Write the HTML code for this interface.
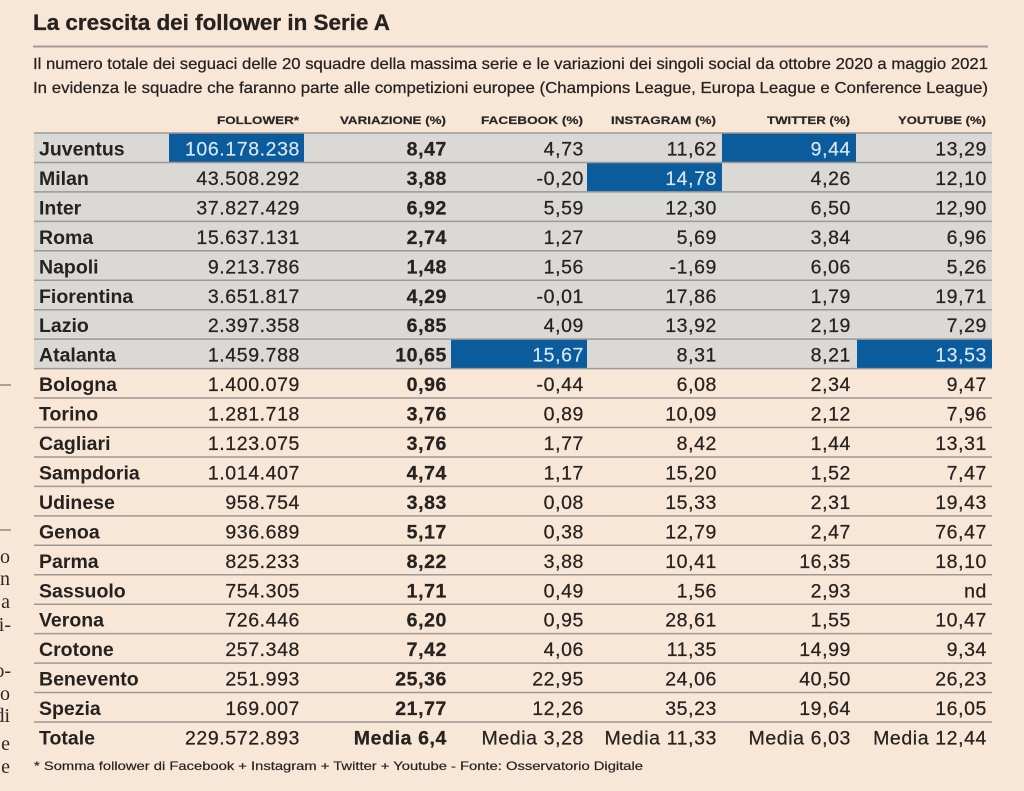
<!DOCTYPE html>
<html>
<head>
<meta charset="utf-8">
<style>
html,body{margin:0;padding:0;background:#f8e7d7;}
svg{display:block;}
.t{font-family:"Liberation Sans",sans-serif;fill:#262220;}
.n{font-size:19.5px;letter-spacing:0.6px;text-anchor:end;stroke:#262220;stroke-width:0.25px;}
.b{font-weight:bold;}
.w{fill:#dbe7f2;stroke:#dbe7f2;stroke-width:0.15px;}
.h{font-size:11px;font-weight:bold;text-anchor:end;fill:#2a2624;stroke:#2a2624;stroke-width:0.2px;}
.s{font-family:"Liberation Serif",serif;font-size:20px;fill:#2e2926;text-anchor:end;}
.r{stroke:#262220;stroke-width:0.25px;}
</style>
</head>
<body>
<svg width="1024" height="791" viewBox="0 0 1024 791" xmlns="http://www.w3.org/2000/svg">
<rect x="0" y="0" width="1024" height="791" fill="#f8e7d7"/>

<!-- left margin cut text -->
<line x1="0" y1="385" x2="11" y2="385" stroke="#8f8a85" stroke-width="1.5"/>
<line x1="0" y1="530" x2="11" y2="530" stroke="#8f8a85" stroke-width="1.5"/>
<text class="s" x="10" y="563">o</text>
<text class="s" x="10" y="585">n</text>
<text class="s" x="10" y="608">a</text>
<text class="s" x="11" y="631">i-</text>
<text class="s" x="11" y="677">o-</text>
<text class="s" x="10" y="700">o</text>
<text class="s" x="10" y="722">di</text>
<text class="s" x="10" y="750">e</text>
<text class="s" x="10" y="773">e</text>

<!-- title -->
<text class="t b" x="33" y="30" font-size="22" textLength="357" lengthAdjust="spacingAndGlyphs" stroke="#262220" stroke-width="0.3">La crescita dei follower in Serie A</text>
<line x1="33" y1="46.5" x2="988" y2="46.5" stroke="#a39e99" stroke-width="2"/>
<text class="t r" x="33" y="69" font-size="16" textLength="955" lengthAdjust="spacingAndGlyphs">Il numero totale dei seguaci delle 20 squadre della massima serie e le variazioni dei singoli social da ottobre 2020 a maggio 2021</text>
<text class="t r" x="33" y="93" font-size="16" textLength="955" lengthAdjust="spacingAndGlyphs">In evidenza le squadre che faranno parte alle competizioni europee (Champions League, Europa League e Conference League)</text>

<!-- headers -->
<text class="t h" x="299" y="124" textLength="82" lengthAdjust="spacingAndGlyphs">FOLLOWER*</text>
<text class="t h" x="446" y="124" textLength="106" lengthAdjust="spacingAndGlyphs">VARIAZIONE (%)</text>
<text class="t h" x="583" y="124" textLength="102" lengthAdjust="spacingAndGlyphs">FACEBOOK (%)</text>
<text class="t h" x="716" y="124" textLength="105" lengthAdjust="spacingAndGlyphs">INSTAGRAM (%)</text>
<text class="t h" x="850" y="124" textLength="83" lengthAdjust="spacingAndGlyphs">TWITTER (%)</text>
<text class="t h" x="986" y="124" textLength="88" lengthAdjust="spacingAndGlyphs">YOUTUBE (%)</text>

<!-- gray rows (0-7) -->
<rect x="34" y="133" width="958" height="235.6" fill="#dbd9d6"/>

<!-- highlights -->
<rect x="169" y="133" width="135" height="29.45" fill="#0b5c9d"/>
<rect x="722" y="133" width="134" height="29.45" fill="#0b5c9d"/>
<rect x="587" y="162.45" width="135" height="29.45" fill="#0b5c9d"/>
<rect x="451" y="339.15" width="136" height="29.45" fill="#0b5c9d"/>
<rect x="857" y="339.15" width="135" height="29.45" fill="#0b5c9d"/>

<!-- separators -->
<g stroke="#9d9894" stroke-width="1.5">
<line x1="34" x2="992" y1="133" y2="133"/>
<line x1="34" x2="992" y1="162.45" y2="162.45"/>
<line x1="34" x2="992" y1="191.9" y2="191.9"/>
<line x1="34" x2="992" y1="221.35" y2="221.35"/>
<line x1="34" x2="992" y1="250.8" y2="250.8"/>
<line x1="34" x2="992" y1="280.25" y2="280.25"/>
<line x1="34" x2="992" y1="309.7" y2="309.7"/>
<line x1="34" x2="992" y1="339.15" y2="339.15"/>
<line x1="34" x2="992" y1="368.6" y2="368.6"/>
<line x1="34" x2="992" y1="398.05" y2="398.05"/>
<line x1="34" x2="992" y1="427.5" y2="427.5"/>
<line x1="34" x2="992" y1="456.95" y2="456.95"/>
<line x1="34" x2="992" y1="486.4" y2="486.4"/>
<line x1="34" x2="992" y1="515.85" y2="515.85"/>
<line x1="34" x2="992" y1="545.3" y2="545.3"/>
<line x1="34" x2="992" y1="574.75" y2="574.75"/>
<line x1="34" x2="992" y1="604.2" y2="604.2"/>
<line x1="34" x2="992" y1="633.65" y2="633.65"/>
<line x1="34" x2="992" y1="663.1" y2="663.1"/>
<line x1="34" x2="992" y1="692.55" y2="692.55"/>
<line x1="34" x2="992" y1="722" y2="722"/>
</g>

<!-- rows -->
<g class="t">
<text class="b" x="39" y="155.5" font-size="19.5">Juventus</text>
<text class="n w" x="300" y="155.5">106.178.238</text>
<text class="n b" x="447" y="155.5">8,47</text>
<text class="n" x="584" y="155.5">4,73</text>
<text class="n" x="717" y="155.5">11,62</text>
<text class="n w" x="851" y="155.5">9,44</text>
<text class="n" x="987" y="155.5">13,29</text>

<text class="b" x="39" y="184.95" font-size="19.5">Milan</text>
<text class="n" x="300" y="184.95">43.508.292</text>
<text class="n b" x="447" y="184.95">3,88</text>
<text class="n" x="584" y="184.95">-0,20</text>
<text class="n w" x="717" y="184.95">14,78</text>
<text class="n" x="851" y="184.95">4,26</text>
<text class="n" x="987" y="184.95">12,10</text>

<text class="b" x="39" y="214.4" font-size="19.5">Inter</text>
<text class="n" x="300" y="214.4">37.827.429</text>
<text class="n b" x="447" y="214.4">6,92</text>
<text class="n" x="584" y="214.4">5,59</text>
<text class="n" x="717" y="214.4">12,30</text>
<text class="n" x="851" y="214.4">6,50</text>
<text class="n" x="987" y="214.4">12,90</text>

<text class="b" x="39" y="243.85" font-size="19.5">Roma</text>
<text class="n" x="300" y="243.85">15.637.131</text>
<text class="n b" x="447" y="243.85">2,74</text>
<text class="n" x="584" y="243.85">1,27</text>
<text class="n" x="717" y="243.85">5,69</text>
<text class="n" x="851" y="243.85">3,84</text>
<text class="n" x="987" y="243.85">6,96</text>

<text class="b" x="39" y="273.3" font-size="19.5">Napoli</text>
<text class="n" x="300" y="273.3">9.213.786</text>
<text class="n b" x="447" y="273.3">1,48</text>
<text class="n" x="584" y="273.3">1,56</text>
<text class="n" x="717" y="273.3">-1,69</text>
<text class="n" x="851" y="273.3">6,06</text>
<text class="n" x="987" y="273.3">5,26</text>

<text class="b" x="39" y="302.75" font-size="19.5">Fiorentina</text>
<text class="n" x="300" y="302.75">3.651.817</text>
<text class="n b" x="447" y="302.75">4,29</text>
<text class="n" x="584" y="302.75">-0,01</text>
<text class="n" x="717" y="302.75">17,86</text>
<text class="n" x="851" y="302.75">1,79</text>
<text class="n" x="987" y="302.75">19,71</text>

<text class="b" x="39" y="332.2" font-size="19.5">Lazio</text>
<text class="n" x="300" y="332.2">2.397.358</text>
<text class="n b" x="447" y="332.2">6,85</text>
<text class="n" x="584" y="332.2">4,09</text>
<text class="n" x="717" y="332.2">13,92</text>
<text class="n" x="851" y="332.2">2,19</text>
<text class="n" x="987" y="332.2">7,29</text>

<text class="b" x="39" y="361.65" font-size="19.5">Atalanta</text>
<text class="n" x="300" y="361.65">1.459.788</text>
<text class="n b" x="447" y="361.65">10,65</text>
<text class="n w" x="584" y="361.65">15,67</text>
<text class="n" x="717" y="361.65">8,31</text>
<text class="n" x="851" y="361.65">8,21</text>
<text class="n w" x="987" y="361.65">13,53</text>

<text class="b" x="39" y="391.1" font-size="19.5">Bologna</text>
<text class="n" x="300" y="391.1">1.400.079</text>
<text class="n b" x="447" y="391.1">0,96</text>
<text class="n" x="584" y="391.1">-0,44</text>
<text class="n" x="717" y="391.1">6,08</text>
<text class="n" x="851" y="391.1">2,34</text>
<text class="n" x="987" y="391.1">9,47</text>

<text class="b" x="39" y="420.55" font-size="19.5">Torino</text>
<text class="n" x="300" y="420.55">1.281.718</text>
<text class="n b" x="447" y="420.55">3,76</text>
<text class="n" x="584" y="420.55">0,89</text>
<text class="n" x="717" y="420.55">10,09</text>
<text class="n" x="851" y="420.55">2,12</text>
<text class="n" x="987" y="420.55">7,96</text>

<text class="b" x="39" y="450" font-size="19.5">Cagliari</text>
<text class="n" x="300" y="450">1.123.075</text>
<text class="n b" x="447" y="450">3,76</text>
<text class="n" x="584" y="450">1,77</text>
<text class="n" x="717" y="450">8,42</text>
<text class="n" x="851" y="450">1,44</text>
<text class="n" x="987" y="450">13,31</text>

<text class="b" x="39" y="479.45" font-size="19.5">Sampdoria</text>
<text class="n" x="300" y="479.45">1.014.407</text>
<text class="n b" x="447" y="479.45">4,74</text>
<text class="n" x="584" y="479.45">1,17</text>
<text class="n" x="717" y="479.45">15,20</text>
<text class="n" x="851" y="479.45">1,52</text>
<text class="n" x="987" y="479.45">7,47</text>

<text class="b" x="39" y="508.9" font-size="19.5">Udinese</text>
<text class="n" x="300" y="508.9">958.754</text>
<text class="n b" x="447" y="508.9">3,83</text>
<text class="n" x="584" y="508.9">0,08</text>
<text class="n" x="717" y="508.9">15,33</text>
<text class="n" x="851" y="508.9">2,31</text>
<text class="n" x="987" y="508.9">19,43</text>

<text class="b" x="39" y="538.35" font-size="19.5">Genoa</text>
<text class="n" x="300" y="538.35">936.689</text>
<text class="n b" x="447" y="538.35">5,17</text>
<text class="n" x="584" y="538.35">0,38</text>
<text class="n" x="717" y="538.35">12,79</text>
<text class="n" x="851" y="538.35">2,47</text>
<text class="n" x="987" y="538.35">76,47</text>

<text class="b" x="39" y="567.8" font-size="19.5">Parma</text>
<text class="n" x="300" y="567.8">825.233</text>
<text class="n b" x="447" y="567.8">8,22</text>
<text class="n" x="584" y="567.8">3,88</text>
<text class="n" x="717" y="567.8">10,41</text>
<text class="n" x="851" y="567.8">16,35</text>
<text class="n" x="987" y="567.8">18,10</text>

<text class="b" x="39" y="597.25" font-size="19.5">Sassuolo</text>
<text class="n" x="300" y="597.25">754.305</text>
<text class="n b" x="447" y="597.25">1,71</text>
<text class="n" x="584" y="597.25">0,49</text>
<text class="n" x="717" y="597.25">1,56</text>
<text class="n" x="851" y="597.25">2,93</text>
<text class="n" x="987" y="597.25">nd</text>

<text class="b" x="39" y="626.7" font-size="19.5">Verona</text>
<text class="n" x="300" y="626.7">726.446</text>
<text class="n b" x="447" y="626.7">6,20</text>
<text class="n" x="584" y="626.7">0,95</text>
<text class="n" x="717" y="626.7">28,61</text>
<text class="n" x="851" y="626.7">1,55</text>
<text class="n" x="987" y="626.7">10,47</text>

<text class="b" x="39" y="656.15" font-size="19.5">Crotone</text>
<text class="n" x="300" y="656.15">257.348</text>
<text class="n b" x="447" y="656.15">7,42</text>
<text class="n" x="584" y="656.15">4,06</text>
<text class="n" x="717" y="656.15">11,35</text>
<text class="n" x="851" y="656.15">14,99</text>
<text class="n" x="987" y="656.15">9,34</text>

<text class="b" x="39" y="685.6" font-size="19.5">Benevento</text>
<text class="n" x="300" y="685.6">251.993</text>
<text class="n b" x="447" y="685.6">25,36</text>
<text class="n" x="584" y="685.6">22,95</text>
<text class="n" x="717" y="685.6">24,06</text>
<text class="n" x="851" y="685.6">40,50</text>
<text class="n" x="987" y="685.6">26,23</text>

<text class="b" x="39" y="715.05" font-size="19.5">Spezia</text>
<text class="n" x="300" y="715.05">169.007</text>
<text class="n b" x="447" y="715.05">21,77</text>
<text class="n" x="584" y="715.05">12,26</text>
<text class="n" x="717" y="715.05">35,23</text>
<text class="n" x="851" y="715.05">19,64</text>
<text class="n" x="987" y="715.05">16,05</text>

<text class="b" x="39" y="744.5" font-size="19.5">Totale</text>
<text class="n" x="300" y="744.5">229.572.893</text>
<text class="n b" x="447" y="744.5" letter-spacing="0">Media 6,4</text>
<text class="n" x="584" y="744.5" letter-spacing="0">Media 3,28</text>
<text class="n" x="717" y="744.5" letter-spacing="0">Media 11,33</text>
<text class="n" x="851" y="744.5" letter-spacing="0">Media 6,03</text>
<text class="n" x="987" y="744.5" letter-spacing="0">Media 12,44</text>
</g>

<!-- footnote -->
<text class="t" x="34" y="770" font-size="12" fill="#2e2926" stroke="#2e2926" stroke-width="0.2" textLength="609" lengthAdjust="spacingAndGlyphs">* Somma follower di Facebook + Instagram + Twitter + Youtube - Fonte: Osservatorio Digitale</text>
</svg>
</body>
</html>
